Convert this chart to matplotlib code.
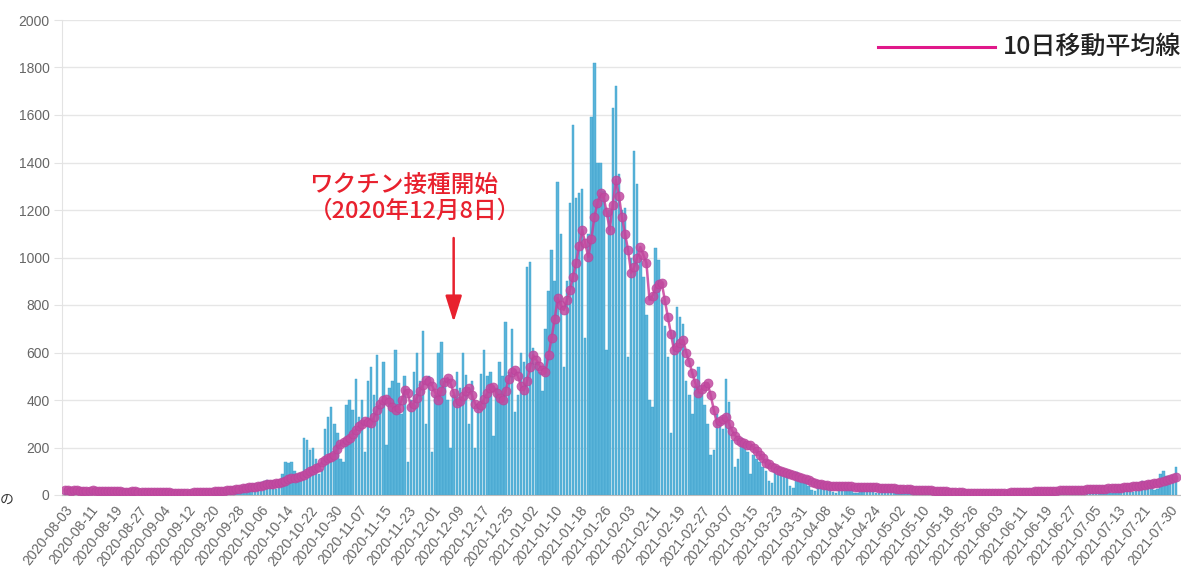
import numpy as np
import pandas as pd
import matplotlib
matplotlib.use("Agg")
import matplotlib.pyplot as plt
from matplotlib.lines import Line2D

plt.rcParams['font.family'] = ['Liberation Sans', 'Noto Sans CJK JP', 'DejaVu Sans']
CJK = ['Noto Sans CJK JP', 'DejaVu Sans']

# categories: one bar per day, 2020-08-03 .. 2021-08-01
dates = pd.date_range("2020-08-03", "2021-08-01", freq="D").strftime("%Y-%m-%d").tolist()

# daily counts, one row per week (Mon..Sun)
daily = [
    10, 22, 25, 18, 20, 15, 8,
    8, 20, 22, 20, 18, 14, 6,
    6, 18, 20, 16, 17, 12, 5,
    5, 18, 18, 15, 14, 10, 5,
    4, 15, 16, 14, 13, 10, 4,
    3, 12, 12, 10, 10, 8, 3,
    4, 14, 15, 16, 14, 13, 6,
    8, 20, 22, 25, 24, 20, 12,
    14, 35, 40, 38, 36, 30, 16,
    20, 55, 60, 65, 55, 45, 25,
    50, 90, 140, 135, 140, 100, 60,
    70, 240, 230, 190, 200, 150, 90,
    110, 280, 330, 370, 300, 260, 150,
    140, 380, 400, 360, 490, 330, 400,
    180, 480, 540, 420, 590, 380, 560,
    210, 450, 480, 610, 470, 340, 500,
    140, 400, 520, 600, 480, 690, 300,
    500, 180, 420, 600, 645, 480, 400,
    200, 420, 520, 450, 600, 505, 300,
    480, 200, 380, 510, 610, 500, 520,
    250, 450, 560, 500, 730, 520, 700,
    350, 420, 600, 560, 960, 980, 620,
    560, 520, 440, 700, 860, 1030, 900,
    1320, 1100, 540, 900, 1230, 1560, 1250,
    1270, 1290, 660, 1100, 1590, 1820, 1400,
    1400, 1280, 610, 1200, 1630, 1720, 1350,
    1200, 1210, 580, 1000, 1450, 1310, 1000,
    920, 760, 400, 370, 1040, 990, 820,
    710, 580, 260, 690, 790, 750, 720,
    480, 420, 340, 460, 540, 440, 380,
    300, 170, 190, 340, 300, 280, 490,
    390, 230, 120, 150, 240, 200, 180,
    90, 170, 150, 140, 120, 100, 60,
    50, 110, 120, 100, 95, 80, 40,
    30, 95, 80, 70, 60, 40, 20,
    15, 60, 55, 50, 45, 35, 12,
    10, 45, 40, 40, 35, 30, 10,
    10, 40, 38, 35, 32, 28, 8,
    8, 35, 32, 30, 28, 25, 7,
    6, 30, 28, 25, 22, 20, 6,
    5, 25, 22, 20, 18, 15, 5,
    4, 18, 16, 14, 12, 10, 4,
    3, 14, 12, 10, 9, 8, 3,
    2, 10, 10, 9, 8, 7, 3,
    3, 12, 13, 12, 11, 10, 4,
    4, 15, 16, 14, 13, 12, 5,
    5, 18, 19, 18, 17, 15, 6,
    6, 22, 23, 22, 20, 18, 8,
    8, 28, 27, 26, 25, 22, 10,
    10, 35, 38, 36, 34, 30, 14,
    15, 50, 60, 55, 50, 45, 20,
    25, 90, 100, 80, 75, 70, 120,
]

# 10-day moving average line as drawn in the picture
ma10 = [
    20, 19, 18, 20, 19, 18, 17,
    17, 18, 19, 18, 17, 16, 16,
    15, 16, 16, 15, 15, 14, 14,
    14, 15, 15, 14, 14, 13, 13,
    13, 13, 14, 13, 12, 12, 12,
    10, 9, 8, 8, 8, 9, 10,
    11, 11, 12, 12, 13, 13, 14,
    15, 16, 17, 18, 19, 20, 22,
    24, 26, 28, 30, 32, 33, 35,
    38, 40, 42, 45, 46, 48, 50,
    52, 55, 60, 66, 70, 72, 75,
    80, 85, 92, 100, 105, 112, 120,
    140, 147, 155, 162, 170, 195, 215,
    225, 232, 240, 255, 275, 290, 300,
    310, 306, 302, 330, 358, 385, 400,
    405, 390, 370, 358, 365, 400, 442,
    430, 370, 385, 410, 440, 465, 484,
    480, 460, 430, 400, 440, 475, 492,
    470, 430, 387, 395, 415, 440, 450,
    420, 385, 366, 380, 405, 430, 450,
    455, 430, 410, 400, 440, 490, 518,
    526, 500, 460, 442, 480, 540, 589,
    570, 545, 525, 518, 590, 661, 740,
    829, 800, 779, 820, 863, 920, 977,
    1050, 1116, 1060, 1002, 1080, 1170, 1230,
    1271, 1255, 1190, 1116, 1220, 1326, 1260,
    1170, 1100, 1031, 935, 960, 1000, 1044,
    1010, 977, 821, 840, 870, 890, 893,
    820, 749, 680, 610, 625, 640, 653,
    600, 560, 513, 470, 429, 445, 460,
    471, 420, 360, 303, 310, 320, 328,
    300, 270, 250, 232, 225, 218, 211,
    211, 200, 185, 170, 155, 135, 130,
    120, 112, 105, 100, 96, 93, 90,
    85, 80, 76, 72, 68, 62, 56,
    52, 48, 45, 44, 42, 40, 40,
    39, 38, 38, 37, 36, 36, 35,
    35, 34, 35, 34, 33, 33, 32,
    31, 30, 30, 29, 28, 28, 27,
    26, 25, 25, 24, 23, 22, 22,
    22, 21, 20, 19, 18, 17, 16,
    15, 15, 14, 13, 12, 11, 11,
    10, 10, 9, 9, 8, 8, 8,
    8, 8, 8, 9, 9, 9, 10,
    10, 11, 11, 12, 12, 13, 13,
    14, 14, 15, 15, 16, 16, 17,
    17, 18, 18, 19, 19, 20, 20,
    21, 21, 22, 22, 23, 24, 24,
    25, 25, 26, 27, 27, 28, 29,
    29, 30, 31, 32, 33, 34, 36,
    38, 40, 42, 44, 46, 48, 50,
    52, 55, 58, 62, 66, 70, 74,
]

tick_labels = [
    "2020-08-03", "2020-08-11", "2020-08-19", "2020-08-27", "2020-09-04",
    "2020-09-12", "2020-09-20", "2020-09-28", "2020-10-06", "2020-10-14",
    "2020-10-22", "2020-10-30", "2020-11-07", "2020-11-15", "2020-11-23",
    "2020-12-01", "2020-12-09", "2020-12-17", "2020-12-25", "2021-01-02",
    "2021-01-10", "2021-01-18", "2021-01-26", "2021-02-03", "2021-02-11",
    "2021-02-19", "2021-02-27", "2021-03-07", "2021-03-15", "2021-03-23",
    "2021-03-31", "2021-04-08", "2021-04-16", "2021-04-24", "2021-05-02",
    "2021-05-10", "2021-05-18", "2021-05-26", "2021-06-03", "2021-06-11",
    "2021-06-19", "2021-06-27", "2021-07-05", "2021-07-13", "2021-07-21",
    "2021-07-30",
]
y_ticks = [0, 200, 400, 600, 800, 1000, 1200, 1400, 1600, 1800, 2000]

vaccine_day = "2020-12-08"
RED = "#e8212e"

fig = plt.figure(figsize=(11.81, 5.69), dpi=100)
ax = fig.add_axes([62 / 1181, 74 / 569, 1 - 62 / 1181, 475 / 569])

x = np.arange(len(dates))
ax.bar(x, daily, width=0.8, color="#5ab4d9", edgecolor="#3a9fcc", linewidth=0.3, zorder=2)
ax.plot(x, ma10, color="#c8409c", lw=1.8, marker="o", ms=6.5, mfc="#c24aa0",
        mec="#b8449c", mew=0.5, alpha=0.85, zorder=3)

ax.set_xlim(-1, 364.7)
ax.set_ylim(0, 2000)
ax.set_yticks(y_ticks)
ax.grid(axis="y", color="#e6e6e6", lw=1)
ax.set_axisbelow(True)
for s in ("top", "right"):
    ax.spines[s].set_visible(False)
ax.spines["left"].set_color("#e3e3e3")
ax.spines["bottom"].set_color("#bdbdbd")
ax.tick_params(axis="y", length=6, color="#e3e3e3", labelsize=10, labelcolor="#666666", pad=3)

pos = [dates.index(t) for t in tick_labels]
ax.set_xticks(pos)
ax.set_xticklabels(tick_labels, rotation=52, ha="right", rotation_mode="anchor",
                   fontsize=10, color="#666666")
ax.tick_params(axis="x", length=0, pad=6)

# annotation: vaccination start
vx = dates.index(vaccine_day)
ax.annotate("", xy=(vx, 728), xytext=(vx, 1082),
            arrowprops=dict(arrowstyle="-|>,head_length=1.6,head_width=0.5",
                            color=RED, lw=1.8, shrinkA=0, shrinkB=0))
fig.text(309 / 1181, 1 - 175 / 569, "ワクチン接種開始\n（2020年12月8日）",
         color=RED, fontsize=17, family=CJK, weight="medium",
         va="top", ha="left", linespacing=1.1)

# legend drawn as in the picture
fig.add_artist(Line2D([878 / 1181, 995 / 1181], [1 - 47 / 569] * 2, color="#e0188a", lw=2.2))
fig.text(1003 / 1181, 1 - 47 / 569, "10日移動平均線", color="#222222", fontsize=18,
         family=CJK, weight="medium", va="center", ha="left")

# stray glyph from the neighbouring page
fig.text(0.0, 1 - 500 / 569, "の", color="#333333", fontsize=10, family=CJK, va="center")

fig.savefig("out.png", dpi=100)
